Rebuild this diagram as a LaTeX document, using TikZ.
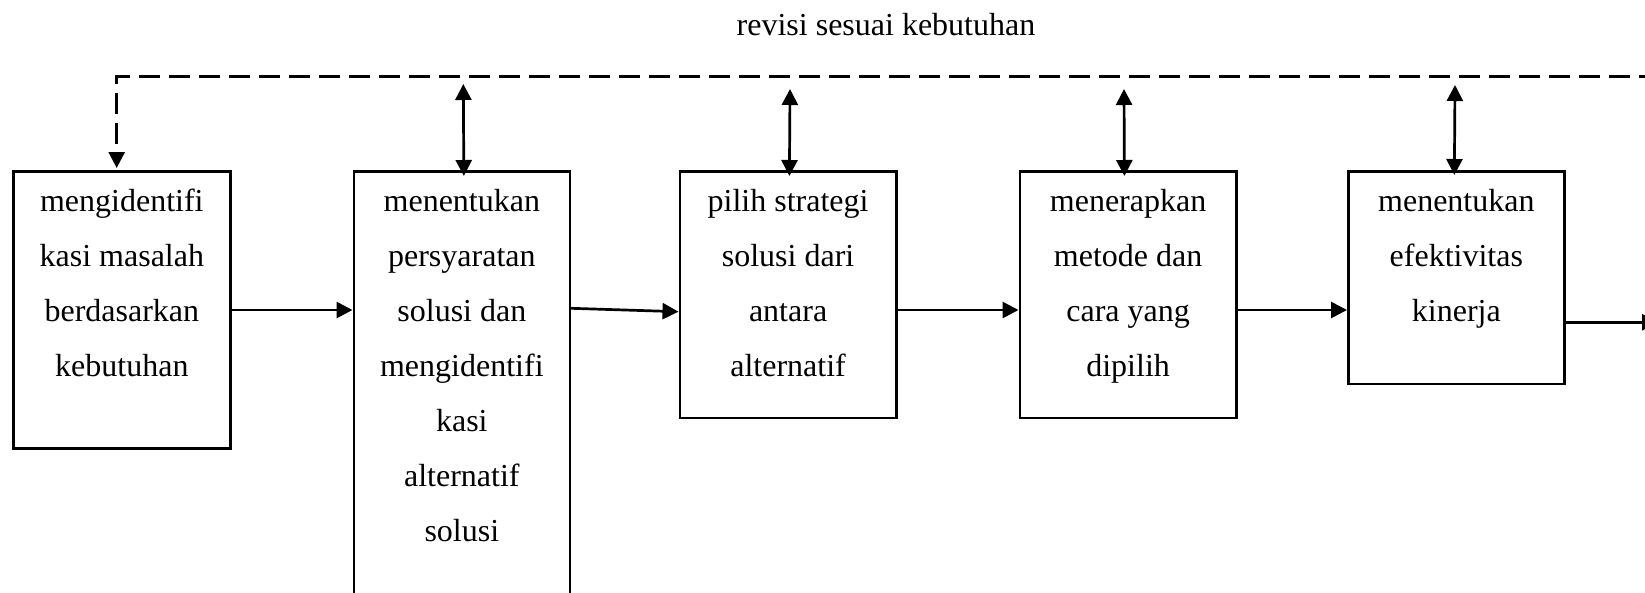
\documentclass[tikz,border=0pt]{standalone}
\usepackage{fontspec}
\setmainfont{Liberation Serif}
\usetikzlibrary{arrows.meta,calc}
\begin{document}
\begin{tikzpicture}[x=1pt,y=-1pt,
  boxst/.style={draw, line width=2.7pt, inner sep=0pt, anchor=north west},
  txt/.style={align=flush center, text width=210pt, inner sep=0pt, anchor=base, font=\fontsize{32}{55}\selectfont},
  conn/.style={line width=2.7pt, -{Triangle[length=16pt,width=16pt]}},
  dconn/.style={line width=2.7pt, {Triangle[length=16pt,width=16pt]}-{Triangle[length=16pt,width=16pt]}},
  fbline/.style={line width=2.7pt, dash pattern=on 21pt off 9pt, -{Triangle[length=16pt,width=16pt]}}
]
\useasboundingbox (0,0) rectangle (1645,592);
\clip (0,0) rectangle (1645,592);

% title
\node[font=\fontsize{32}{38}\selectfont, anchor=base, inner sep=0pt] (title) at (886,35) {revisi sesuai kebutuhan};

% boxes
\node[boxst, minimum width=217pt, minimum height=277pt] (b1) at (12,170) {};
\node[boxst, minimum width=216pt, minimum height=455pt] (b2) at (352.5,170) {};
\node[boxst, minimum width=216.5pt, minimum height=246.7pt] (b3) at (678.5,170) {};
\node[boxst, minimum width=216.5pt, minimum height=246.7pt] (b4) at (1018.5,170) {};
\node[boxst, minimum width=216pt, minimum height=212.5pt] (b5) at (1347,170) {};

% texts
\node[txt] (t1) at ($(b1.north)+(0,41.5)$) {mengidentifi\\kasi masalah\\berdasarkan\\kebutuhan};
\node[txt] (t2) at ($(b2.north)+(0,41.5)$) {menentukan\\persyaratan\\solusi dan\\mengidentifi\\kasi\\alternatif\\solusi};
\node[txt] (t3) at ($(b3.north)+(0,41.5)$) {pilih strategi\\solusi dari\\antara\\alternatif};
\node[txt] (t4) at ($(b4.north)+(0,41.5)$) {menerapkan\\metode dan\\cara yang\\dipilih};
\node[txt] (t5) at ($(b5.north)+(0,41.5)$) {menentukan\\efektivitas\\kinerja};

% horizontal connectors
\draw[conn] ($(b1.north east)+(0,140)$) -- ($(b2.north west)+(0,140)$);
\draw[conn] ($(b2.north east)+(0,138.3)$) -- ($(b3.north west)+(0,141.7)$);
\draw[conn] ($(b3.north east)+(0,140)$) -- ($(b4.north west)+(0,140)$);
\draw[conn] ($(b4.north east)+(0,140)$) -- ($(b5.north west)+(0,140)$);
\coordinate (out) at (1658,322.3);
\draw[conn] ($(b5.north east)+(0,152.3)$) -- (out);

% double arrows to the feedback line
\coordinate (u2) at (463.3,84);
\coordinate (u3) at (790,89);
\coordinate (u4) at (1124,89);
\coordinate (u5) at (1455,85);
\draw[dconn] (u2) -- ($(b2.north)+(2,6)$);
\draw[dconn] (u3) -- ($(b3.north)+(1.3,6)$);
\draw[dconn] (u4) -- ($(b4.north)+(-3.7,6)$);
\draw[dconn] (u5) -- ($(b5.north)+(-2,5)$);

% dashed feedback line
\coordinate (dl) at (1660,76.7);
\coordinate (dc) at (116.7,76.7);
\draw[fbline] (dl) -- (dc) -- ($(dc |- b1.north)+(0,-2)$);
\end{tikzpicture}
\end{document}
